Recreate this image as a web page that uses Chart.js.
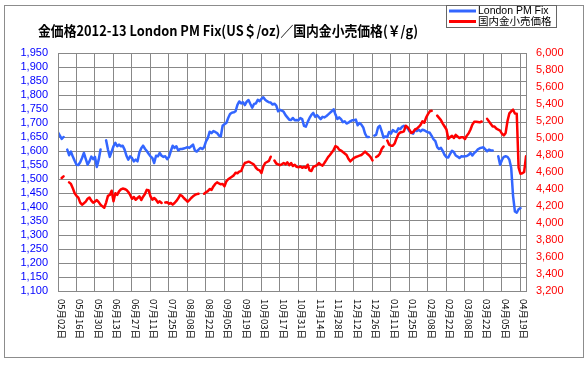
<!DOCTYPE html>
<html>
<head>
<meta charset="utf-8">
<script src="https://cdn.jsdelivr.net/npm/chart.js@4/dist/chart.umd.min.js"></script>
<style>
  html, body { margin: 0; padding: 0; background: #fff; }
  canvas { display: block; }
</style>
</head>
<body>
<canvas id="grafico" width="586" height="367"></canvas>
<script>
// tick labels every 10 business days (05/02/2012 .. 04/19/2013)
var rotulosData = ['05月02日', '05月16日', '05月30日', '06月13日', '06月27日', '07月11日', '07月25日',
    '08月08日', '08月22日', '09月05日', '09月19日', '10月03日', '10月17日', '10月31日', '11月14日',
    '11月28日', '12月12日', '12月26日', '01月11日', '01月25日', '02月08日', '02月22日', '03月08日',
    '03月22日', '04月05日', '04月19日'];

// London PM Fix (US$/oz), one value per business day
var londonPmFix = [
    1667, 1655, 1643, 1650, null, 1605, 1585, 1598, 1580, 1565,
    1551, 1550, 1560, 1575, 1593, 1572, 1551, 1563, 1580, 1571,
    1579, 1543, 1569, 1605, null, null, 1638, 1605, 1579, 1598,
    1617, 1629, 1617, 1623, 1617, 1619, 1605, 1583, 1569, 1581,
    1575, 1563, 1569, 1563, 1595, 1610, 1619, 1608, 1600, 1590,
    1581, 1575, 1557, 1583, 1581, 1593, 1583, 1579, 1581, 1571,
    1579, 1600, 1619, 1611, 1617, 1602, 1607, 1607, 1609, 1611,
    1614, 1611, 1617, 1623, 1602, 1598, 1605, 1611, 1607, 1614,
    1634, 1646, 1669, 1664, 1671, 1668, 1664, 1655, 1652, 1690,
    1696, 1700, 1718, 1732, 1737, 1738, 1742, 1765, 1777, 1770,
    1774, 1764, 1776, 1782, 1768, 1755, 1768, 1770, 1783, 1778,
    1786, 1792, 1783, 1778, 1774, 1773, 1766, 1769, 1762, 1742,
    1747, 1744, 1740, 1728, 1720, 1712, 1711, 1718, 1710, 1711,
    1710, 1718, 1714, 1690, 1687, 1704, 1718, 1729, 1736, 1722,
    1728, 1721, 1714, 1722, 1720, 1724, 1730, 1736, 1742, 1749,
    1730, 1714, 1720, 1714, 1703, 1706, 1698, 1701, 1706, 1710,
    1710, 1712, 1692, 1700, 1694, 1684, 1662, 1650, 1650, null,
    null, 1655, 1658, 1684, 1690, 1670, 1648, 1652, 1650, 1668,
    1662, 1675, 1670, 1668, 1681, 1678, 1686, 1690, 1686, 1681,
    1670, 1666, 1662, 1676, 1671, 1676, 1670, 1676, 1674, 1670,
    1667, 1665, 1654, 1642, 1635, 1614, 1607, 1611, 1600, 1586,
    1578, 1577, 1590, 1601, 1596, 1584, 1580, 1575, 1581, 1580,
    1581, 1582, 1586, 1593, 1584, 1593, 1598, 1606, 1610, 1612,
    1613, 1606, 1599, 1605, 1602, 1602, null, null, 1581, 1551,
    1568, 1579, 1581, 1579, 1569, 1540, 1440, 1384, 1380, 1392,
    1396, null, null, null
];

// 国内金小売価格 (円/g)
var precoVarejoJp = [
    null, null, 4530, 4549, null, null, 4478, 4460, 4410, 4350,
    4320, 4298, 4240, 4216, 4233, 4252, 4285, 4300, 4264, 4240,
    4252, 4270, 4246, 4214, 4196, 4180, 4240, 4320, 4330, 4380,
    4255, 4350, 4330, 4372, 4395, 4405, 4400, 4390, 4365, 4330,
    4285, 4306, 4274, 4294, 4314, 4270, 4310, 4340, 4390, 4385,
    4314, 4274, 4294, 4274, 4240, 4255, 4235, null, 4240, 4243,
    4227, 4235, 4216, 4235, 4260, 4290, 4330, 4320, 4294, 4274,
    4250, 4270, 4294, 4314, 4330, 4340, 4345, null, null, 4345,
    4361, 4375, 4400, 4390, 4430, 4460, 4478, 4465, 4455, 4460,
    4431, 4490, 4515, 4530, 4545, 4560, 4592, 4585, 4605, 4610,
    4665, 4706, 4714, 4722, 4712, 4700, 4684, 4650, 4628, 4620,
    4588, 4665, 4706, 4718, 4730, 4780, null, 4735, 4700, 4690,
    4680, 4690, 4706, 4690, 4714, 4680, 4706, 4670, 4686, 4660,
    4655, 4665, 4650, 4660, 4650, 4686, 4620, 4612, 4660, 4670,
    4680, 4706, 4686, 4675, 4706, 4740, 4776, 4800, 4830, 4860,
    4905, 4894, 4863, 4852, 4835, 4818, 4800, 4755, 4725, 4745,
    4765, 4776, 4784, 4792, 4800, 4820, 4840, 4818, 4800, 4776,
    4737, null, 4776, 4790, 4815, 4870, 4900, null, 4970, 4922,
    4910, 4910, 4935, 4995, 5045, 5065, 5070, 5078, 5145, 5128,
    5095, 5059, 5070, 5100, 5110, 5130, 5155, 5196, 5180, 5240,
    5280, 5314, 5320, null, null, 5263, 5237, 5210, 5170, 5135,
    5100, 4990, 5010, 5025, 5000, 5037, 5018, 5000, 5010, 5010,
    4988, 5027, 5055, 5100, 5157, 5190, 5192, 5188, 5184, 5194,
    null, null, 5225, 5195, 5165, 5135, 5134, 5110, 5098, 5088,
    5050, 5030, 5060, 5200, 5290, 5314, 5333, 5288, 5285, 4650,
    4580, 4585, 4600, 4784
];

var titulo = '金価格2012-13 London PM Fix(US＄/oz)／国内金小売価格(￥/g)';
var nomesSeries = ['London PM Fix', '国内金小売価格'];
var cores = ['#3366ff', '#ff0000'];
var corGrade = '#888888';

var paraPontos = function (valores) {
    return valores.map(function (v, i) { return { x: i, y: v }; });
};

var formatarNumero = function (v) {
    return Number(v).toLocaleString('en-US');
};

var fonteEixo = { family: '"Liberation Sans Narrow", "Liberation Sans", Arial, sans-serif', size: 11 };

// frame, title, legend and the vertical date labels (Excel-like)
var decoracao = {
    id: 'decoracao',
    beforeDraw: function (chart) {
        var ctx = chart.ctx;
        ctx.save();
        ctx.fillStyle = '#ffffff';
        ctx.fillRect(0, 0, chart.width, chart.height);
        ctx.strokeStyle = '#8c8c8c';
        ctx.lineWidth = 1;
        ctx.strokeRect(4.5, 5.5, 579, 352);
        ctx.restore();
    },
    afterDraw: function (chart) {
        var ctx = chart.ctx;
        var area = chart.chartArea;
        var escalaX = chart.scales.x;

        ctx.save();
        ctx.strokeStyle = corGrade;
        ctx.lineWidth = 1;
        ctx.strokeRect(Math.round(area.left) + 0.5, Math.round(area.top) + 0.5,
            Math.round(area.right - area.left), Math.round(area.bottom - area.top));

        // title
        ctx.fillStyle = '#000';
        ctx.font = 'bold 14px "Noto Sans CJK JP", sans-serif';
        ctx.textBaseline = 'middle';
        ctx.textAlign = 'left';
        var largura = ctx.measureText(titulo).width;
        var fator = Math.min(1, 380 / largura);
        ctx.save();
        ctx.translate(38, 31);
        ctx.scale(fator, 1);
        ctx.fillText(titulo, 0, 0);
        ctx.restore();

        // legend
        ctx.fillStyle = '#fff';
        ctx.fillRect(446, 5, 110, 22);
        ctx.strokeStyle = '#666';
        ctx.strokeRect(446.5, 5.5, 110, 22);
        ctx.font = '10.5px "Liberation Sans", "Noto Sans CJK JP", sans-serif';
        for (var i = 0; i < nomesSeries.length; i++) {
            var y = 11 + i * 10.5;
            ctx.strokeStyle = cores[i];
            ctx.lineWidth = 3;
            ctx.beginPath();
            ctx.moveTo(449, y);
            ctx.lineTo(476, y);
            ctx.stroke();
            ctx.fillStyle = '#000';
            ctx.fillText(nomesSeries[i], 478, y + 0.5);
        }

        // date labels, rotated clockwise
        ctx.font = '9.5px "Noto Sans CJK JP", sans-serif';
        ctx.fillStyle = '#000';
        ctx.textBaseline = 'middle';
        for (var k = 0; k < rotulosData.length; k++) {
            var px = escalaX.getPixelForValue(k * 10);
            ctx.save();
            ctx.translate(px + 3.5, area.bottom + 8);
            ctx.rotate(Math.PI / 2);
            ctx.fillText(rotulosData[k], 0, 0);
            ctx.restore();
        }
        ctx.restore();
    }
};

var configGrafico = {
    type: 'line',
    data: {
        datasets: [{
            label: nomesSeries[0],
            data: paraPontos(londonPmFix),
            yAxisID: 'yUsd',
            borderColor: cores[0],
            order: 1
        }, {
            label: nomesSeries[1],
            data: paraPontos(precoVarejoJp),
            yAxisID: 'yJpy',
            borderColor: cores[1],
            order: 0
        }]
    },
    options: {
        responsive: false,
        animation: false,
        spanGaps: false,
        layout: { padding: { top: 53, left: 0, right: 0, bottom: 0 } },
        elements: {
            point: { radius: 0 },
            line: { borderWidth: 2.5, tension: 0, borderCapStyle: 'round', borderJoinStyle: 'round', fill: false }
        },
        plugins: {
            legend: { display: false },
            title: { display: false },
            tooltip: { enabled: false }
        },
        scales: {
            x: {
                type: 'linear',
                min: 0,
                max: 253,
                afterFit: function (s) { s.height = 76; },
                ticks: { stepSize: 10, display: false, includeBounds: false },
                grid: { color: corGrade, drawTicks: false },
                border: { color: corGrade }
            },
            yUsd: {
                position: 'left',
                min: 1100,
                max: 1950,
                afterFit: function (s) { s.width = 58; },
                ticks: { stepSize: 50, color: '#0000ff', padding: 10, autoSkip: false, font: fonteEixo, callback: formatarNumero },
                grid: { color: corGrade, drawTicks: false },
                border: { color: corGrade }
            },
            yJpy: {
                position: 'right',
                min: 3200,
                max: 6000,
                afterFit: function (s) { s.width = 60; },
                ticks: { stepSize: 200, color: '#ff0000', padding: 10, autoSkip: false, font: fonteEixo, callback: formatarNumero },
                grid: { drawOnChartArea: false, drawTicks: false },
                border: { color: corGrade }
            }
        }
    },
    plugins: [decoracao]
};

var _chart = new Chart(document.getElementById('grafico').getContext('2d'), configGrafico);
</script>
</body>
</html>
